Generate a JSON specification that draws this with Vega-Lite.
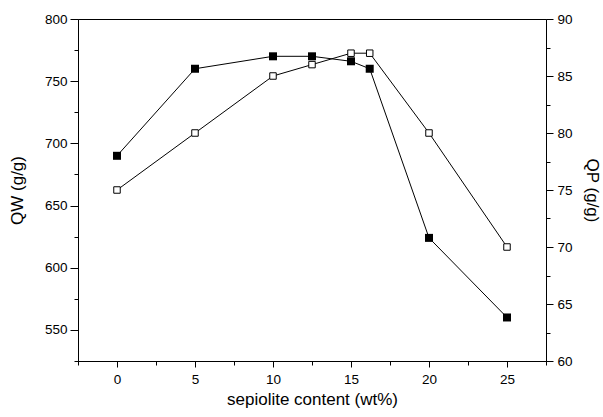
{
  "$schema": "https://vega.github.io/schema/vega-lite/v6.json",
  "autosize": "none",
  "width": 468,
  "height": 342,
  "padding": {"left": 78, "top": 19, "right": 57, "bottom": 56},
  "background": "white",
  "config": {
    "view": {"stroke": "black", "strokeWidth": 1},
    "font": "Liberation Sans",
    "axis": {
      "domainColor": "black",
      "tickColor": "black",
      "labelColor": "black",
      "titleColor": "black",
      "labelFont": "Liberation Sans",
      "titleFont": "Liberation Sans",
      "labelFontSize": 13.5,
      "titleFontSize": 17,
      "titleFontWeight": "normal",
      "grid": false,
      "domainWidth": 1,
      "tickWidth": 1
    }
  },
  "data": {
    "values": [
      {"x": 0, "qw": 690, "qp": 75},
      {"x": 5, "qw": 760, "qp": 80},
      {"x": 10, "qw": 770, "qp": 85},
      {"x": 12.5, "qw": 770, "qp": 86},
      {"x": 15, "qw": 766, "qp": 87},
      {"x": 16.2, "qw": 760, "qp": 87},
      {"x": 20, "qw": 624, "qp": 80},
      {"x": 25, "qw": 560, "qp": 70}
    ]
  },
  "encoding": {
    "x": {
      "field": "x",
      "type": "quantitative",
      "scale": {"domain": [-2.5, 27.5], "nice": false, "zero": false},
      "axis": {
        "title": "sepiolite content (wt%)",
        "values": [-2.5, 0, 2.5, 5, 7.5, 10, 12.5, 15, 17.5, 20, 22.5, 25, 27.5],
        "labelExpr": "datum.value % 5 === 0 ? datum.label : ''",
        "tickSize": {"condition": {"test": "datum.value % 5 === 0", "value": 6}, "value": 4},
        "labelPadding": 5,
        "titlePadding": 6
      }
    }
  },
  "layer": [
    {
      "encoding": {
        "y": {
          "field": "qw",
          "type": "quantitative",
          "scale": {"domain": [525, 800], "nice": false, "zero": false},
          "axis": {
            "orient": "left",
            "title": "QW (g/g)",
            "values": [525, 550, 575, 600, 625, 650, 675, 700, 725, 750, 775, 800],
            "labelExpr": "datum.value % 50 === 0 ? datum.label : ''",
            "tickSize": {"condition": {"test": "datum.value % 50 === 0", "value": 8}, "value": 4},
            "labelPadding": 3,
            "titlePadding": 18
          }
        }
      },
      "layer": [
        {"mark": {"type": "line", "color": "black", "strokeWidth": 1}},
        {"mark": {"type": "point", "shape": "square", "filled": true, "color": "black", "size": 64, "opacity": 1}}
      ]
    },
    {
      "encoding": {
        "y": {
          "field": "qp",
          "type": "quantitative",
          "scale": {"domain": [60, 90], "nice": false, "zero": false},
          "axis": {
            "orient": "right",
            "title": "QP (g/g)",
            "values": [60, 62.5, 65, 67.5, 70, 72.5, 75, 77.5, 80, 82.5, 85, 87.5, 90],
            "labelExpr": "datum.value % 5 === 0 ? datum.label : ''",
            "tickSize": {"condition": {"test": "datum.value % 5 === 0", "value": 7}, "value": 4},
            "labelPadding": 4,
            "titlePadding": 10
          }
        }
      },
      "layer": [
        {"mark": {"type": "line", "color": "black", "strokeWidth": 1}},
        {"mark": {"type": "point", "shape": "square", "filled": true, "fill": "white", "stroke": "black", "strokeWidth": 1, "size": 42, "opacity": 1}}
      ]
    }
  ],
  "resolve": {"scale": {"y": "independent"}, "axis": {"y": "independent"}}
}
